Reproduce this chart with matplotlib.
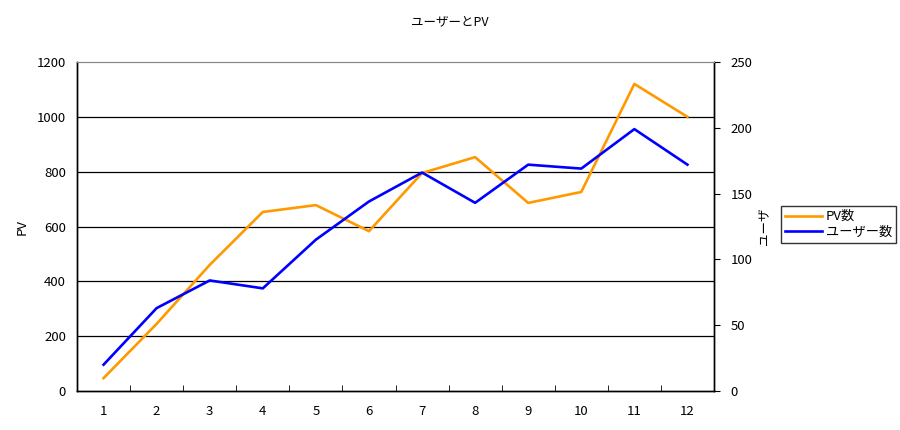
import matplotlib
matplotlib.use('Agg')
import matplotlib.pyplot as plt
from matplotlib.ticker import MultipleLocator

plt.rcParams['font.family'] = ['Noto Sans CJK JP', 'DejaVu Sans']

# data
months = [1, 2, 3, 4, 5, 6, 7, 8, 9, 10, 11, 12]
pv = [47, 245, 460, 653, 678, 583, 795, 853, 686, 726, 1120, 1000]
users = [20, 63, 84, 78, 115, 144, 166, 143, 172, 169, 199, 172]

fig = plt.figure(figsize=(9, 4.3), dpi=100)
ax = fig.add_axes([0.0856, 0.0907, 0.7077, 0.7651])
ax2 = ax.twinx()

x = list(range(len(months)))
l1, = ax.plot(x, pv, color='#FF9900', lw=1.9, label='PV数')
l2, = ax2.plot(x, users, color='#0000FF', lw=1.9, label='ユーザー数')

# left axis
ax.set_xlim(-0.5, len(months) - 0.5)
ax.set_ylim(0, 1200)
ax.set_yticks(range(0, 1201, 200))
ax.set_xticks(x)
ax.set_xticklabels([str(m) for m in months])
ax.set_xticks([i + 0.5 for i in x[:-1]], minor=True)
ax.tick_params(axis='x', which='major', length=0, pad=10, labelsize=9.5)
ax.tick_params(axis='x', which='minor', direction='in', length=4, color='black')
ax.tick_params(axis='y', length=0, pad=8, labelsize=9.5)
# gridlines only between the bottom and top edges
for v in range(200, 1200, 200):
    ax.axhline(v, color='black', lw=0.9, zorder=0)
ax.set_ylabel('PV', fontsize=9.5, labelpad=6)

# right axis
ax2.set_ylim(0, 250)
ax2.yaxis.set_major_locator(MultipleLocator(50))
ax2.tick_params(axis='y', direction='out', length=4, pad=8, labelsize=9.5)
ax2.set_ylabel('ユーザ', fontsize=9, labelpad=4)

for a in (ax, ax2):
    a.spines['top'].set_color('#888888')
    for s in ('left', 'bottom', 'right'):
        a.spines[s].set_color('black')
        a.spines[s].set_linewidth(1.0)

fig.suptitle('ユーザーとPV', y=0.965, fontsize=9)

leg = fig.legend(handles=[l1, l2], loc='upper left', bbox_to_anchor=(0.868, 0.52),
                 fontsize=9.5, frameon=True, fancybox=False, handlelength=2.8,
                 handletextpad=0.3, borderpad=0.3, labelspacing=0.2, borderaxespad=0)
leg.get_frame().set_edgecolor('black')
leg.get_frame().set_linewidth(1.0)

fig.savefig('out.png', dpi=100)
